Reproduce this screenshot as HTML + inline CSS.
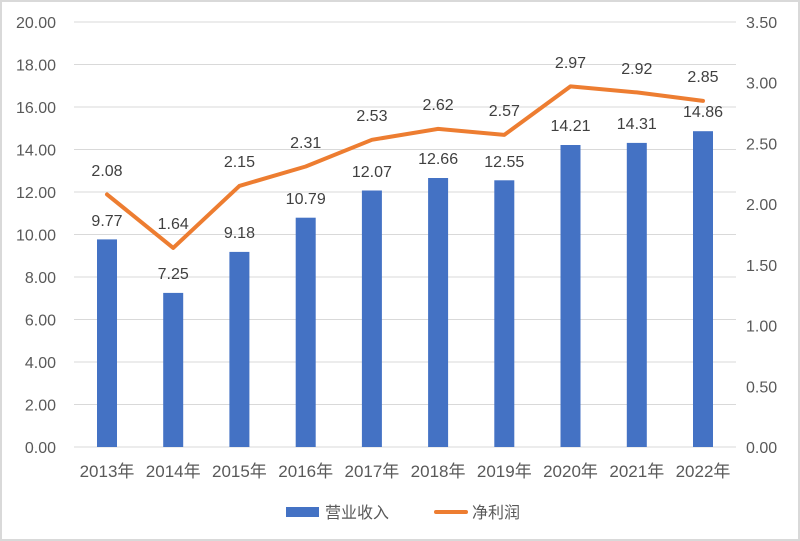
<!DOCTYPE html>
<html><head><meta charset="utf-8"><style>body{margin:0;background:#fff}svg{display:block}text{font-family:"Liberation Sans","Noto Sans CJK SC",sans-serif}</style></head><body>
<svg width="800" height="541" xmlns="http://www.w3.org/2000/svg">
<rect x="1" y="1" width="798" height="539" fill="#fff" stroke="#d9d9d9" stroke-width="2"/>
<g stroke="#d9d9d9" stroke-width="1">
<line x1="74" x2="736" y1="22" y2="22"/><line x1="74" x2="736" y1="64.5" y2="64.5"/><line x1="74" x2="736" y1="107" y2="107"/><line x1="74" x2="736" y1="149.5" y2="149.5"/><line x1="74" x2="736" y1="192" y2="192"/><line x1="74" x2="736" y1="234.5" y2="234.5"/><line x1="74" x2="736" y1="277" y2="277"/><line x1="74" x2="736" y1="319.5" y2="319.5"/><line x1="74" x2="736" y1="362" y2="362"/><line x1="74" x2="736" y1="404.5" y2="404.5"/><line x1="74" x2="736" y1="447" y2="447"/>
</g>
<g font-size="16" fill="#595959" text-anchor="end">
<text x="56" y="28">20.00</text><text x="56" y="70.5">18.00</text><text x="56" y="113">16.00</text><text x="56" y="155.5">14.00</text><text x="56" y="198">12.00</text><text x="56" y="240.5">10.00</text><text x="56" y="283">8.00</text><text x="56" y="325.5">6.00</text><text x="56" y="368">4.00</text><text x="56" y="410.5">2.00</text><text x="56" y="453">0.00</text>
</g>
<g font-size="16" fill="#595959" text-anchor="start">
<text x="746" y="28">3.50</text><text x="746" y="88.7">3.00</text><text x="746" y="149.4">2.50</text><text x="746" y="210.1">2.00</text><text x="746" y="270.9">1.50</text><text x="746" y="331.6">1.00</text><text x="746" y="392.3">0.50</text><text x="746" y="453">0.00</text>
</g>
<g fill="#4472c4">
<rect x="97" y="239.4" width="20" height="207.6"/>
<rect x="163.2" y="292.9" width="20" height="154.1"/>
<rect x="229.4" y="251.9" width="20" height="195.1"/>
<rect x="295.7" y="217.7" width="20" height="229.3"/>
<rect x="361.9" y="190.5" width="20" height="256.5"/>
<rect x="428.1" y="178" width="20" height="269"/>
<rect x="494.3" y="180.3" width="20" height="266.7"/>
<rect x="560.5" y="145" width="20" height="302"/>
<rect x="626.8" y="142.9" width="20" height="304.1"/>
<rect x="693" y="131.2" width="20" height="315.8"/>
</g>
<polyline fill="none" stroke="#ed7d31" stroke-width="4" stroke-linejoin="round" stroke-linecap="round" points="107,194.4 173.2,247.9 239.4,185.9 305.7,166.5 371.9,139.8 438.1,128.9 504.3,134.9 570.5,86.4 636.8,92.4 703,100.9"/>
<g font-size="16" fill="#404040" text-anchor="middle">
<text x="107" y="226">9.77</text><text x="173.2" y="279">7.25</text><text x="239.4" y="238">9.18</text><text x="305.7" y="204">10.79</text><text x="371.9" y="177">12.07</text><text x="438.1" y="164">12.66</text><text x="504.3" y="167">12.55</text><text x="570.5" y="131">14.21</text><text x="636.8" y="129">14.31</text><text x="703" y="117">14.86</text>
<text x="107" y="176">2.08</text><text x="173.2" y="229">1.64</text><text x="239.4" y="167">2.15</text><text x="305.7" y="148">2.31</text><text x="371.9" y="121">2.53</text><text x="438.1" y="110">2.62</text><text x="504.3" y="116">2.57</text><text x="570.5" y="68">2.97</text><text x="636.8" y="74">2.92</text><text x="703" y="82">2.85</text>
</g>
<g font-size="17" fill="#595959" text-anchor="middle">
<text x="107" y="477">2013年</text><text x="173.2" y="477">2014年</text><text x="239.4" y="477">2015年</text><text x="305.7" y="477">2016年</text><text x="371.9" y="477">2017年</text><text x="438.1" y="477">2018年</text><text x="504.3" y="477">2019年</text><text x="570.5" y="477">2020年</text><text x="636.8" y="477">2021年</text><text x="703" y="477">2022年</text>
</g>
<rect x="286" y="507" width="33" height="10" fill="#4472c4"/>
<text x="325" y="518" font-size="16" fill="#595959">营业收入</text>
<line x1="436" x2="466" y1="512" y2="512" stroke="#ed7d31" stroke-width="4" stroke-linecap="round"/>
<text x="472" y="518" font-size="16" fill="#595959">净利润</text>
</svg>
</body></html>
